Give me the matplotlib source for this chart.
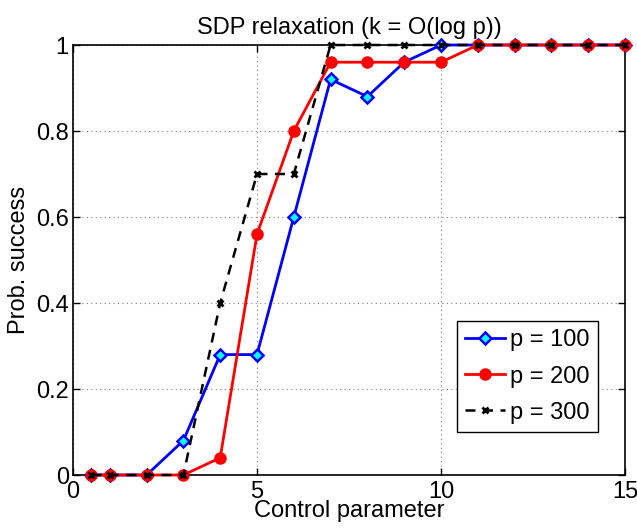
import matplotlib
matplotlib.use("Agg")
import matplotlib.pyplot as plt
import numpy as np

plt.rcParams.update({
    "font.family": ["Liberation Sans", "DejaVu Sans"],
    "font.size": 17,
    "xtick.direction": "in",
    "ytick.direction": "in",
})

control = [0.5, 1, 2, 3, 4, 5, 6, 7, 8, 9, 10, 11, 12, 13, 14, 15]
succ_p100 = [0, 0, 0, 0.08, 0.28, 0.28, 0.60, 0.92, 0.88, 0.96, 1, 1, 1, 1, 1, 1]
succ_p200 = [0, 0, 0, 0, 0.04, 0.56, 0.80, 0.96, 0.96, 0.96, 0.96, 1, 1, 1, 1, 1]
succ_p300 = [0, 0, 0, 0, 0.40, 0.70, 0.70, 1, 1, 1, 1, 1, 1, 1, 1, 1]

fig = plt.figure(figsize=(6.37, 5.29), dpi=100)
ax = fig.add_axes([73 / 637, 1 - 475 / 529, 552 / 637, 430 / 529])

ax.plot(control, succ_p100, color="blue", lw=2, marker="D", ms=6,
        mfc="cyan", mec="blue", mew=1.8, label="p = 100", clip_on=False, zorder=3)
ax.plot(control, succ_p200, color="red", lw=2, marker="o", ms=8,
        mfc="red", mec="red", label="p = 200", clip_on=False, zorder=4)
ax.plot(control, succ_p300, color="black", lw=1.8, ls=(0, (4, 3)), marker="x", ms=4,
        mew=2, label="p = 300", clip_on=False, zorder=5)

ax.set_xlim(0, 15)
ax.set_ylim(0, 1)
ax.set_xticks([0, 5, 10, 15])
ax.set_yticks([0, 0.2, 0.4, 0.6, 0.8, 1])
ax.set_yticklabels(["0", "0.2", "0.4", "0.6", "0.8", "1"])
ax.tick_params(top=True, right=True, length=5, width=1, labelsize=17)
ax.tick_params(axis="y", pad=3)
ax.tick_params(axis="x", pad=4)
ax.grid(True, color="#808080", ls=(0, (1, 3)), lw=0.8)
for sp in ax.spines.values():
    sp.set_linewidth(1.2)

ax.set_xlabel("Control parameter", fontsize=17, labelpad=-2)
ax.set_ylabel("Prob. success", fontsize=17, labelpad=4)
ax.set_title("SDP relaxation (k = O(log p))", fontsize=17, pad=8)

leg = ax.legend(loc="lower right", bbox_to_anchor=(0.951, 0.1), fontsize=17,
                fancybox=False, framealpha=1, edgecolor="black",
                handlelength=1.7, handletextpad=0.2, borderpad=0.35,
                labelspacing=0.6, borderaxespad=0)
leg.get_frame().set_linewidth(1)

fig.savefig("out.png", dpi=100)
